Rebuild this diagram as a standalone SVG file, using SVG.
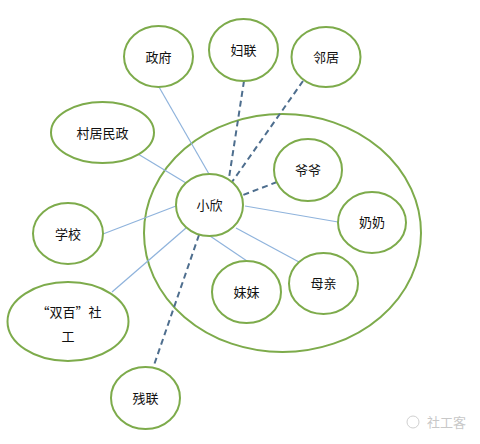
<svg xmlns="http://www.w3.org/2000/svg" width="480" height="444" viewBox="0 0 480 444">
<style>
.n{fill:#fff;stroke:#7dab4b;stroke-width:2}
.big{fill:none;stroke:#7dab4b;stroke-width:2}
.t{font-family:"Liberation Sans","Noto Sans CJK SC",sans-serif;font-size:13px;fill:#111;text-anchor:middle;dominant-baseline:central}
.q{font-family:"Noto Sans CJK SC",sans-serif}
.s{stroke:#8fb3dc;stroke-width:1.2;fill:none}
.d{stroke:#4e6e8e;stroke-width:2;stroke-dasharray:6,4;fill:none}
.w{font-family:"Liberation Sans","Noto Sans CJK SC",sans-serif;font-size:13px;fill:#c8c8c8}
</style>
<rect width="480" height="444" fill="#fff"/>
<ellipse id="family" class="big" cx="282.5" cy="233" rx="138.5" ry="119"/>
<g id="connectors">
<line class="s" x1="159" y1="87" x2="209" y2="174"/>
<line class="d" x1="244" y1="81" x2="229" y2="178"/>
<line class="d" x1="303" y1="81" x2="232" y2="182"/>
<line class="s" x1="138" y1="154" x2="186" y2="183"/>
<line class="d" x1="277" y1="182" x2="243" y2="195"/>
<line class="s" x1="245" y1="206" x2="338" y2="222"/>
<line class="s" x1="103" y1="234" x2="176" y2="206"/>
<line class="s" x1="112" y1="292" x2="186" y2="228"/>
<line class="s" x1="210" y1="236" x2="247" y2="261"/>
<line class="s" x1="236" y1="228" x2="299" y2="262"/>
<line class="d" x1="199" y1="235" x2="153" y2="368"/>
</g>
<g id="zhengfu"><ellipse class="n" cx="158.5" cy="56.5" rx="34.5" ry="30.5"/><text class="t" x="158.5" y="57">政府</text></g>
<g id="fulian"><ellipse class="n" cx="243.5" cy="50" rx="34.5" ry="31"/><text class="t" x="243.5" y="50">妇联</text></g>
<g id="linju"><ellipse class="n" cx="326" cy="57" rx="34.5" ry="30"/><text class="t" x="326" y="57">邻居</text></g>
<g id="cunju"><ellipse class="n" cx="102.5" cy="132.5" rx="51.5" ry="30.5"/><text class="t" x="102.5" y="133">村居民政</text></g>
<g id="xiaoxin"><ellipse class="n" cx="209.5" cy="205" rx="33.5" ry="31"/><text class="t" x="209.5" y="205">小欣</text></g>
<g id="yeye"><ellipse class="n" cx="308" cy="170" rx="34" ry="31"/><text class="t" x="308" y="170">爷爷</text></g>
<g id="nainai"><ellipse class="n" cx="372" cy="222.5" rx="34" ry="30.5"/><text class="t" x="372" y="222">奶奶</text></g>
<g id="xuexiao"><ellipse class="n" cx="68" cy="233.5" rx="35" ry="30.5"/><text class="t" x="68" y="234">学校</text></g>
<g id="meimei"><ellipse class="n" cx="246.5" cy="292" rx="34.5" ry="31"/><text class="t" x="246.5" y="292">妹妹</text></g>
<g id="muqin"><ellipse class="n" cx="323.5" cy="283.5" rx="34.5" ry="30.5"/><text class="t" x="323.5" y="283">母亲</text></g>
<g id="shuangbai"><ellipse class="n" cx="68" cy="321.5" rx="60.5" ry="39.5"/><text class="t q" x="69" y="311">“双百”社</text><text class="t" x="68" y="336">工</text></g>
<g id="canlian"><ellipse class="n" cx="145.5" cy="398" rx="34.5" ry="31"/><text class="t" x="145.5" y="398">残联</text></g>
<g id="watermark"><circle cx="413" cy="422" r="6" fill="none" stroke="#d0d0d0" stroke-width="1"/><text class="w" x="427" y="427">社工客</text></g>
</svg>
